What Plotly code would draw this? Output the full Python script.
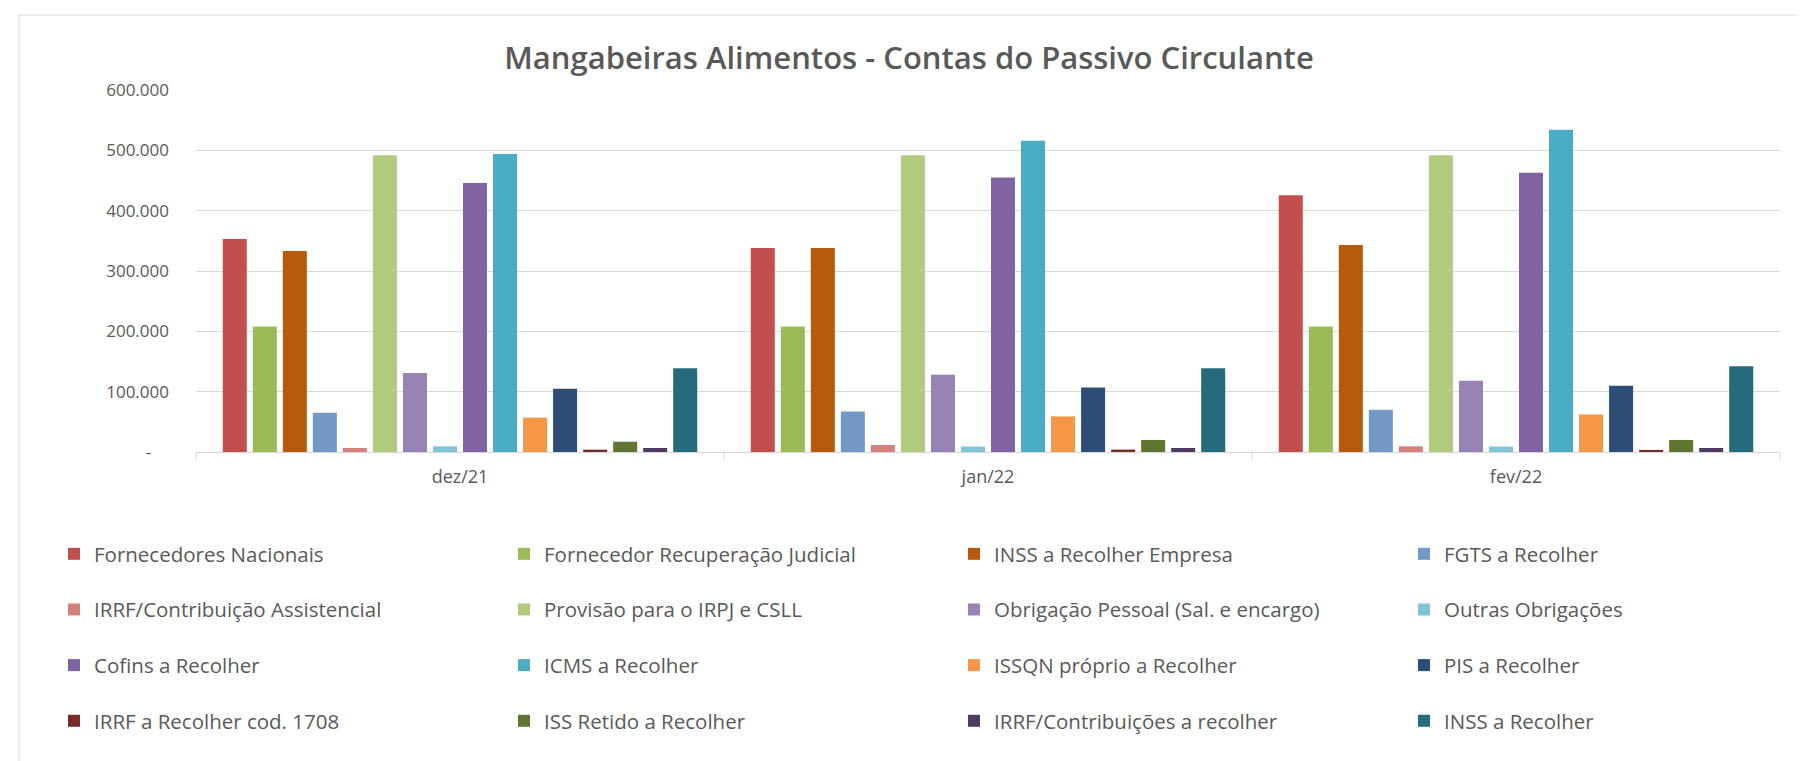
import plotly.graph_objects as go

categories = ["dez/21", "jan/22", "fev/22"]

fornecedores_nacionais = [353000, 338000, 425500]
fornecedor_recuperacao_judicial = [208000, 208000, 208000]
inss_recolher_empresa = [333000, 338000, 343000]
fgts_recolher = [65000, 67000, 70000]
irrf_contribuicao_assistencial = [6600, 11600, 9400]
provisao_irpj_csll = [492000, 492000, 492000]
obrigacao_pessoal = [131000, 128000, 118000]
outras_obrigacoes = [9400, 9000, 9000]
cofins_recolher = [446000, 455000, 463000]
icms_recolher = [494000, 516000, 534000]
issqn_proprio = [57000, 59000, 62000]
pis_recolher = [105000, 107000, 110000]
irrf_cod_1708 = [3900, 4000, 3500]
iss_retido = [17000, 20000, 20000]
irrf_contribuicoes = [6600, 6600, 6600]
inss_recolher = [139000, 139000, 142000]

series_names = [
    "Fornecedores Nacionais", "Fornecedor Recuperação Judicial", "INSS a Recolher Empresa", "FGTS a Recolher",
    "IRRF/Contribuição Assistencial", "Provisão para o IRPJ e CSLL", "Obrigação Pessoal (Sal. e encargo)", "Outras Obrigações",
    "Cofins a Recolher", "ICMS a Recolher", "ISSQN próprio a Recolher", "PIS a Recolher",
    "IRRF a Recolher cod. 1708", "ISS Retido a Recolher", "IRRF/Contribuições a recolher", "INSS a Recolher",
]
series_values = [
    fornecedores_nacionais, fornecedor_recuperacao_judicial, inss_recolher_empresa, fgts_recolher,
    irrf_contribuicao_assistencial, provisao_irpj_csll, obrigacao_pessoal, outras_obrigacoes,
    cofins_recolher, icms_recolher, issqn_proprio, pis_recolher,
    irrf_cod_1708, iss_retido, irrf_contribuicoes, inss_recolher,
]
series_colors = [
    "#C0504D", "#9BBB59", "#B85A0E", "#7399C6",
    "#D6807D", "#B1CA7D", "#9983B5", "#7FC3D7",
    "#8064A2", "#4BACC6", "#F79646", "#2C4D75",
    "#772C2A", "#5F7530", "#4D3B62", "#276A7C",
]

y_tickvals = [0, 100000, 200000, 300000, 400000, 500000, 600000]
y_ticktext = ["-\u00a0\u00a0\u00a0\u00a0", "100.000", "200.000", "300.000", "400.000", "500.000", "600.000"]

FONT = "Open Sans"
TXT = "#595959"
W, H = 1805, 761
L, R, T, B = 188, 33, 82, 317

fig = go.Figure()
legend_ids = ["legend", "legend2", "legend3", "legend4"]
for i, (name, vals, col) in enumerate(zip(series_names, series_values, series_colors)):
    fig.add_trace(go.Bar(
        x=categories, y=vals, name=name, marker_color=col,
        marker_line_width=0, legend=legend_ids[i % 4], legendgroup=f"g{i}",
    ))

LEG_FONT = 20.5
legends = {}
for k, lid in enumerate(legend_ids):
    legends[lid] = dict(
        orientation="v", xref="container", yref="container",
        x=(46 + 450 * k) / W, xanchor="left",
        y=1 - 526 / H, yanchor="top",
        font=dict(family=FONT, size=LEG_FONT, color=TXT),
        bgcolor="rgba(0,0,0,0)", itemwidth=30,
        traceorder="grouped", tracegroupgap=26,
    )

pw = W - L - R
ph = H - T - B

fig.update_layout(
    width=W, height=H, autosize=False,
    margin=dict(l=L, r=R, t=T, b=B, pad=0, autoexpand=False),
    paper_bgcolor="white", plot_bgcolor="white",
    title=dict(text="Mangabeiras Alimentos - Contas do Passivo Circulante",
               x=901 / W, xref="container", xanchor="center",
               y=1 - 50 / H, yref="container", yanchor="middle",
               font=dict(family=FONT, size=31, color=TXT, weight=600)),
    barmode="group", bargap=0.09, bargroupgap=0.2,
    showlegend=True,
    xaxis=dict(type="category", showline=True, linecolor="#D9D9D9", linewidth=1,
               ticks="outside", tickson="boundaries", ticklen=6, tickcolor="#D9D9D9",
               showgrid=False, zeroline=False, automargin=False, tickangle=0,
               tickfont=dict(family=FONT, size=18, color=TXT), ticklabelstandoff=8),
    yaxis=dict(range=[0, 600000], tickvals=y_tickvals, ticktext=y_ticktext,
               showgrid=True, gridcolor="#D9D9D9", gridwidth=1, zeroline=False,
               showline=False, ticks="", automargin=False,
               tickfont=dict(family=FONT, size=17, color=TXT), ticklabelstandoff=26),
    shapes=[dict(type="rect", xref="paper", yref="paper",
                 x0=(11 - L) / pw, x1=(1796 - L) / pw,
                 y0=(H - B - 754) / ph, y1=(H - B - 7) / ph,
                 line=dict(color="#D9D9D9", width=1), fillcolor="rgba(0,0,0,0)", layer="below")],
    **legends,
)

fig.write_html("out.html")
